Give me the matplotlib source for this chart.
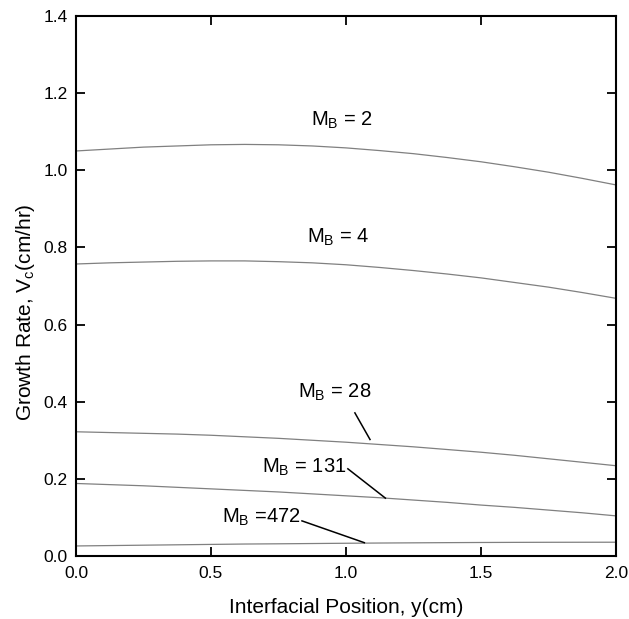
import matplotlib
matplotlib.use("Agg")
import matplotlib.pyplot as plt

plt.rcParams['font.family'] = ['Liberation Sans', 'DejaVu Sans']
plt.rcParams['mathtext.fontset'] = 'custom'
plt.rcParams['mathtext.rm'] = 'Liberation Sans'

# Data
y_pos = [0.0, 0.125, 0.25, 0.375, 0.5, 0.625, 0.75, 0.875, 1.0,
         1.125, 1.25, 1.375, 1.5, 1.625, 1.75, 1.875, 2.0]
mb_2 = [1.050, 1.055, 1.060, 1.063, 1.066, 1.067, 1.066, 1.063, 1.058,
        1.051, 1.043, 1.033, 1.022, 1.009, 0.995, 0.979, 0.962]
mb_4 = [0.757, 0.760, 0.762, 0.764, 0.765, 0.765, 0.763, 0.760, 0.755,
        0.748, 0.740, 0.731, 0.721, 0.709, 0.697, 0.683, 0.668]
mb_28 = [0.322, 0.320, 0.318, 0.316, 0.313, 0.309, 0.305, 0.300, 0.295,
         0.289, 0.283, 0.276, 0.269, 0.261, 0.252, 0.243, 0.234]
mb_131 = [0.188, 0.185, 0.182, 0.178, 0.174, 0.170, 0.166, 0.161, 0.156,
          0.151, 0.145, 0.139, 0.132, 0.126, 0.119, 0.112, 0.104]
mb_472 = [0.026, 0.027, 0.028, 0.029, 0.030, 0.031, 0.0316, 0.0323, 0.033,
          0.0336, 0.0341, 0.0346, 0.035, 0.0353, 0.0355, 0.0356, 0.0357]
series = [mb_2, mb_4, mb_28, mb_131, mb_472]
labels = [r"M$_\mathregular{B}$ = 2", r"M$_\mathregular{B}$ = 4",
          r"M$_\mathregular{B}$ = 28", r"M$_\mathregular{B}$ = 131",
          r"M$_\mathregular{B}$ =472"]
x_ticks = [0.0, 0.5, 1.0, 1.5, 2.0]
y_ticks = [0.0, 0.2, 0.4, 0.6, 0.8, 1.0, 1.2, 1.4]

fig = plt.figure(figsize=(6.29, 6.19), dpi=100)
ax = fig.add_axes([0.1208, 0.1018, 0.8585, 0.8724])

for s in series:
    ax.plot(y_pos, s, color='#808080', lw=0.9)

# label positions (text xy, leader line)
label_pos = [
    ((0.985, 1.130), None),
    ((0.970, 0.827), None),
    ((0.960, 0.425), ((1.033, 0.371), (1.089, 0.302))),
    ((0.844, 0.231), ((1.007, 0.226), (1.146, 0.150))),
    ((0.685, 0.101), ((0.837, 0.091), (1.068, 0.0345))),
]
for lab, (txy, arr) in zip(labels, label_pos):
    ax.text(txy[0], txy[1], lab, ha='center', va='center', fontsize=14.5)
    if arr is not None:
        ax.plot([arr[0][0], arr[1][0]], [arr[0][1], arr[1][1]], color='black', lw=1.1)

ax.set_xlim(0, 2.0)
ax.set_ylim(0, 1.4)
ax.set_xticks(x_ticks)
ax.set_yticks(y_ticks)
ax.set_xticklabels([f"{v:.1f}" for v in x_ticks])
ax.set_yticklabels([f"{v:.1f}" for v in y_ticks])
ax.tick_params(direction='in', length=6.5, width=1.3, labelsize=12.5,
               top=True, right=True, labeltop=False, labelright=False)
ax.tick_params(axis='x', pad=7.5)
ax.tick_params(axis='y', pad=6)
for sp in ax.spines.values():
    sp.set_linewidth(1.5)

ax.set_xlabel("Interfacial Position, y(cm)", fontsize=15, labelpad=12)
ax.set_ylabel(r"Growth Rate, V$_\mathregular{c}$(cm/hr)", fontsize=15)
ax.yaxis.set_label_coords(-0.073, 0.452)

fig.savefig("out.png", dpi=100)
